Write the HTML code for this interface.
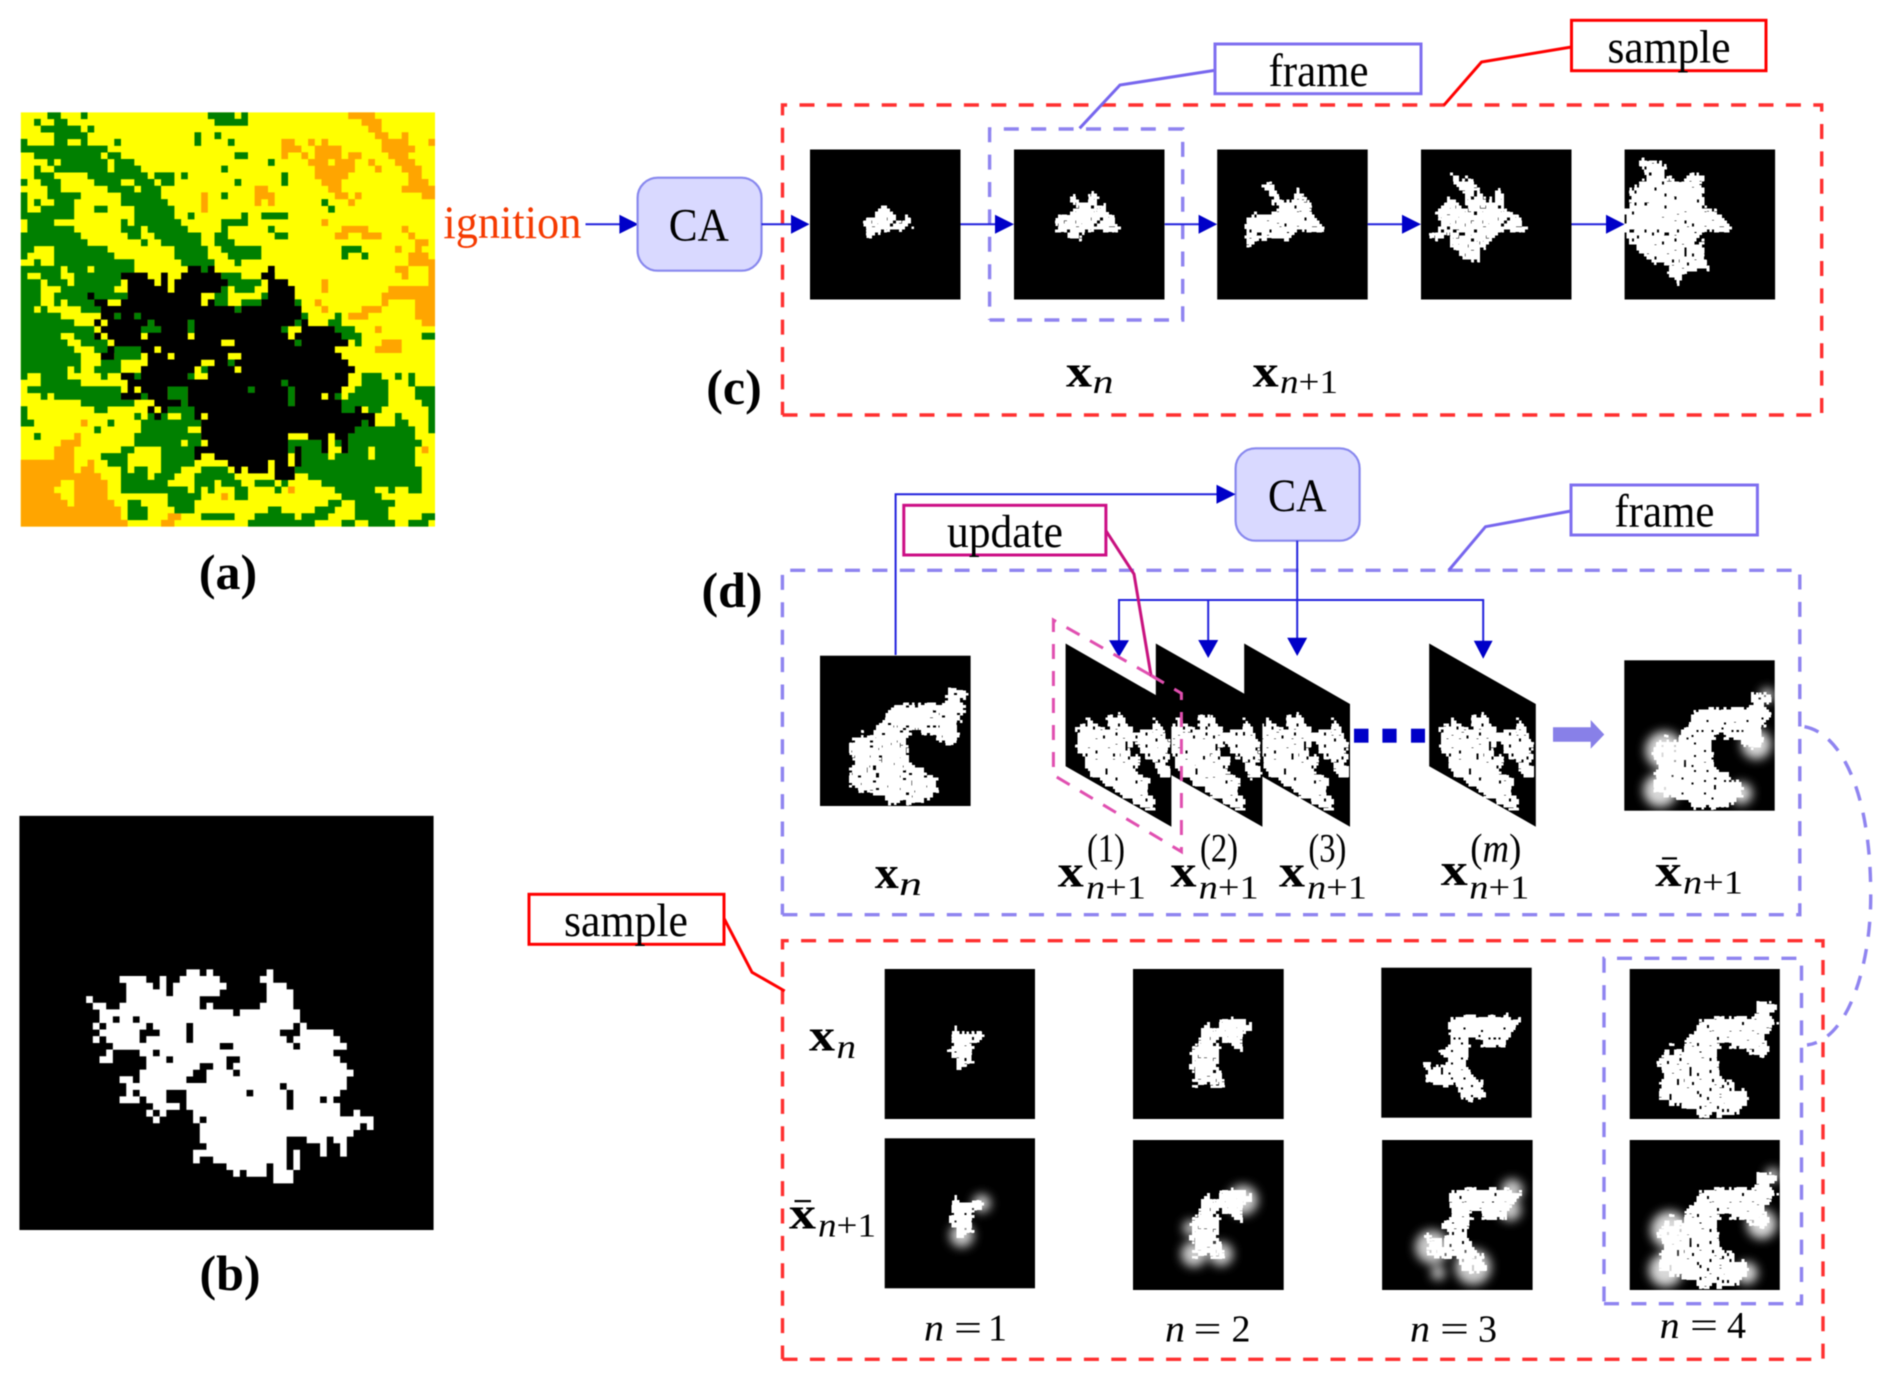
<!DOCTYPE html>
<html><head><meta charset="utf-8"><title>Diagram</title>
<style>
html,body{margin:0;padding:0;background:#fff}
svg{display:block}
#root{filter:blur(.4px)}
text{font-family:"Liberation Serif",serif;fill:#000}
.b{font-weight:bold}
.i{font-style:italic}
.rd{fill:none;stroke:#ff3030;stroke-width:3.4;stroke-dasharray:15 12.4}
.pd{fill:none;stroke:#8f84f0;stroke-width:3.4;stroke-dasharray:15 12.4}
.bl{fill:none;stroke:#2222dd;stroke-width:2}
.hd{fill:#0000c8}
</style></head><body>
<svg id="root" xmlns="http://www.w3.org/2000/svg" width="1892" height="1381" viewBox="0 0 1892 1381">
<defs>
<filter id="r" filterUnits="userSpaceOnUse" x="0" y="0" width="150" height="190" color-interpolation-filters="sRGB">
<feTurbulence type="fractalNoise" baseFrequency=".09" numOctaves="2" seed="2" result="t1"/>
<feDisplacementMap in="SourceGraphic" in2="t1" scale="16" xChannelSelector="R" yChannelSelector="G" result="d1"/>
<feTurbulence type="fractalNoise" baseFrequency=".5" numOctaves="1" seed="4" result="t2"/>
<feDisplacementMap in="d1" in2="t2" scale="7" xChannelSelector="R" yChannelSelector="G" result="d2"/>
<feTurbulence type="fractalNoise" baseFrequency=".3" numOctaves="1" seed="9"/>
<feColorMatrix type="matrix" values="0 0 0 0 0 0 0 0 0 0 0 0 0 0 0 20 0 0 0 -12.6" result="h"/>
<feComposite in="d2" in2="h" operator="out" result="s"/>
<feFlood x="0" y="0" width="1" height="1" flood-color="#fff"/>
<feComposite width="3" height="3"/>
<feTile result="a"/>
<feComposite in="s" in2="a" operator="in"/>
<feComponentTransfer><feFuncA type="discrete" tableValues="0 1"/></feComponentTransfer>
<feMorphology operator="dilate" radius="1"/>
</filter>
<filter id="g" x="-50%" y="-50%" width="200%" height="200%"><feGaussianBlur stdDeviation="5"/></filter>
<path id="m" fill="none" stroke-width="1.03" d="M25 23.5H27M28 23.5H29M37 23.5H38M15 24.5H19M21 24.5H22M24 24.5H30M36 24.5H38M16 25.5H20M21 25.5H22M23 25.5H31M37 25.5H40M16 26.5H22M23 26.5H30M37 26.5H41M10 27.5H11M16 27.5H27M37 27.5H41M11 28.5H13M15 28.5H27M28 28.5H29M36 28.5H41M12 29.5H32M33 29.5H42M12 30.5H14M15 30.5H17M18 30.5H42M11 31.5H12M13 31.5H19M20 31.5H25M26 31.5H41M42 31.5H43M12 32.5H18M21 32.5H25M26 32.5H39M42 32.5H47M11 33.5H12M13 33.5H18M19 33.5H25M26 33.5H40M41 33.5H48M14 34.5H30M32 34.5H41M42 34.5H49M13 35.5H14M18 35.5H20M21 35.5H47M12 36.5H14M19 36.5H22M23 36.5H31M33 36.5H48M19 37.5H27M29 37.5H31M32 37.5H49M18 38.5H26M28 38.5H32M33 38.5H50M15 39.5H17M18 39.5H25M28 39.5H49M16 40.5H39M40 40.5H49M16 41.5H17M18 41.5H22M25 41.5H34M35 41.5H40M41 41.5H48M15 42.5H18M19 42.5H22M25 42.5H40M41 42.5H45M46 42.5H47M20 43.5H24M25 43.5H40M41 43.5H48M19 44.5H20M21 44.5H22M26 44.5H48M50 44.5H51M20 45.5H21M26 45.5H27M28 45.5H53M27 46.5H51M52 46.5H53M27 47.5H50M27 48.5H40M43 48.5H46M47 48.5H49M28 49.5H40M45 49.5H46M48 49.5H49M26 50.5H40M41 50.5H42M45 50.5H46M48 50.5H49M26 51.5H27M29 51.5H40M41 51.5H42M31 52.5H37M38 52.5H40M41 52.5H42M32 53.5H33M34 53.5H37M38 53.5H41M38 54.5H41"/>
<polygon id="n4" fill="#fff" points="28,91 41,78 56,79 65,61 76,48 99,49 125,46 125,33 143,36 143,49 149,53 139,68 137,88 128,88 112,79 91,73 86,81 89,108 102,113 115,125 119,134 106,144 82,147 58,141 41,134 28,118 34,104"/>
<polygon id="n1" fill="#fff" points="70,61 82,64 97,62 99,70 88,72 85,86 87,94 82,99 70,98 72,84 66,81 69,71"/>
<polygon id="n2" fill="#fff" points="59,84 67,70 70,60 75,54 79,56 86,54 97,50 117,50 116,62 110,68 107,81 100,76 88,71 84,81 86,104 92,118 78,116 61,118 60,100"/>
<polygon id="n3" fill="#fff" points="44,99 66,96 59,84 72,76 68,62 68,51 79,47 100,50 131,46 137,56 126,66 122,79 107,79 96,71 90,69 84,96 94,110 103,119 101,129 88,137 75,119 55,119 46,115"/>
<polygon id="pb" fill="#fff" points="11.5,85 27,72 34,90 46,72 54,70 66.5,83 87,90 90,73 104,100 105,120 100,137 83,113 68,97 64,112 80,138 90,165 73,163 49,148 26,130 14,110"/>
<g id="gx"><circle cx="40" cy="90" r="19"/><circle cx="36" cy="130" r="17"/><circle cx="117" cy="133" r="11"/><circle cx="132" cy="84" r="15"/><circle cx="143" cy="35" r="7"/></g>
</defs>

<!-- (a) map -->
<svg x="20.7" y="112.3" width="414.4" height="414.4" viewBox="0 0 62 62">
<rect width="62" height="62" fill="#ffff00"/>
<path fill="none" stroke="#ffa500" stroke-width="1.03" d="M49 .5H53M51 1.5H54M52 2.5H54M53 3.5H55M57 3.5H58M39 4.5H41M43 4.5H44M45 4.5H46M54 4.5H58M61 4.5H62M39 5.5H42M44 5.5H48M54 5.5H59M39 6.5H40M42 6.5H43M44 6.5H48M49 6.5H51M55 6.5H58M43 7.5H46M47 7.5H50M52 7.5H53M56 7.5H59M44 8.5H50M53 8.5H54M57 8.5H60M44 9.5H49M58 9.5H60M45 10.5H48M58 10.5H61M35 11.5H37M46 11.5H48M57 11.5H62M27 12.5H28M35 12.5H38M47 12.5H49M50 12.5H51M60 12.5H62M27 13.5H28M35 13.5H36M37 13.5H38M49 13.5H50M27 14.5H28M45 16.5H46M48 17.5H52M57 17.5H58M47 18.5H49M51 18.5H54M58 18.5H59M59 19.5H61M56 20.5H57M59 20.5H60M58 21.5H61M58 22.5H62M56 23.5H58M61 23.5H62M57 24.5H58M61 24.5H62M45 25.5H46M61 25.5H62M45 26.5H46M55 26.5H62M54 27.5H62M44 28.5H45M54 28.5H55M59 28.5H62M45 29.5H46M51 29.5H54M59 29.5H62M49 30.5H52M59 30.5H62M60 31.5H62M53 32.5H54M54 34.5H57M53 35.5H57M9 46.5H10M8 48.5H9M6 49.5H9M5 50.5H8M60 50.5H61M5 51.5H8M0 52.5H8M10 52.5H11M0 53.5H8M9 53.5H11M0 54.5H8M8 54.5H12M0 55.5H6M8 55.5H13M0 56.5H5M8 56.5H13M40 56.5H41M0 57.5H6M8 57.5H13M30 57.5H31M0 58.5H7M8 58.5H14M0 59.5H15M0 60.5H15M22 60.5H24M0 61.5H16M21 61.5H23"/>
<path fill="none" stroke="#008000" stroke-width="1.03" d="M4 .5H6M9 .5H10M28 .5H32M33 .5H34M2 1.5H3M5 1.5H7M29 1.5H34M3 2.5H9M10 2.5H11M5 3.5H10M26 3.5H27M29 3.5H30M0 4.5H1M5 4.5H7M9 4.5H10M14 4.5H15M26 4.5H27M31 4.5H32M0 5.5H13M2 6.5H12M13 6.5H15M32 6.5H34M4 7.5H5M6 7.5H13M14 7.5H17M37 7.5H38M2 8.5H3M5 8.5H13M14 8.5H18M30 8.5H31M2 9.5H5M10 9.5H19M20 9.5H23M24 9.5H25M39 9.5H40M0 10.5H1M3 10.5H6M11 10.5H15M17 10.5H20M21 10.5H23M32 10.5H33M39 10.5H40M4 11.5H6M13 11.5H17M18 11.5H21M0 12.5H1M4 12.5H9M15 12.5H21M30 12.5H31M0 13.5H1M2 13.5H3M5 13.5H8M15 13.5H22M45 13.5H46M0 14.5H1M3 14.5H8M11 14.5H13M17 14.5H23M46 14.5H47M0 15.5H8M17 15.5H23M25 15.5H26M33 15.5H34M36 15.5H40M1 16.5H5M15 16.5H16M17 16.5H24M30 16.5H34M1 17.5H8M15 17.5H18M19 17.5H25M30 17.5H31M37 17.5H38M0 18.5H9M16 18.5H18M20 18.5H27M29 18.5H31M38 18.5H40M0 19.5H10M18 19.5H19M21 19.5H27M29 19.5H32M0 20.5H2M5 20.5H13M23 20.5H28M30 20.5H36M48 20.5H51M0 21.5H1M5 21.5H14M23 21.5H28M31 21.5H36M48 21.5H49M51 21.5H52M2 22.5H3M5 22.5H17M24 22.5H29M32 22.5H33M0 23.5H6M7 23.5H10M11 23.5H17M27 23.5H29M0 24.5H1M3 24.5H6M8 24.5H15M30 24.5H33M36 24.5H38M0 25.5H3M4 25.5H7M8 25.5H15M31 25.5H36M0 26.5H3M6 26.5H14M30 26.5H31M32 26.5H35M0 27.5H3M5 27.5H16M29 27.5H31M36 27.5H37M0 28.5H3M5 28.5H6M7 28.5H11M29 28.5H31M33 28.5H36M41 28.5H42M0 29.5H2M3 29.5H4M9 29.5H12M32 29.5H33M41 29.5H42M0 30.5H6M14 30.5H15M17 30.5H18M42 30.5H43M47 30.5H48M0 31.5H8M19 31.5H20M25 31.5H26M41 31.5H42M46 31.5H48M0 32.5H11M18 32.5H21M25 32.5H26M39 32.5H40M47 32.5H50M0 33.5H6M8 33.5H11M48 33.5H51M60 33.5H62M0 34.5H7M9 34.5H13M41 34.5H42M50 34.5H51M0 35.5H8M11 35.5H18M0 36.5H9M14 36.5H18M0 37.5H9M12 37.5H15M31 37.5H32M0 38.5H7M8 38.5H9M11 38.5H15M27 38.5H30M31 38.5H32M0 39.5H1M3 39.5H7M12 39.5H13M15 39.5H18M25 39.5H26M32 39.5H33M51 39.5H54M56 39.5H57M58 39.5H59M3 40.5H9M39 40.5H40M51 40.5H55M58 40.5H59M1 41.5H15M22 41.5H25M34 41.5H35M40 41.5H41M50 41.5H55M59 41.5H62M3 42.5H4M5 42.5H15M18 42.5H19M22 42.5H25M40 42.5H41M47 42.5H48M49 42.5H55M59 42.5H62M9 43.5H17M24 43.5H25M40 43.5H41M48 43.5H55M60 43.5H62M0 44.5H1M11 44.5H13M22 44.5H26M48 44.5H51M52 44.5H54M61 44.5H62M0 45.5H1M17 45.5H18M19 45.5H22M24 45.5H26M56 45.5H57M61 45.5H62M0 46.5H2M13 46.5H14M18 46.5H27M51 46.5H52M56 46.5H58M61 46.5H62M11 47.5H12M18 47.5H25M50 47.5H59M61 47.5H62M2 48.5H3M17 48.5H27M49 48.5H59M17 49.5H24M25 49.5H27M40 49.5H45M47 49.5H48M49 49.5H60M15 50.5H17M21 50.5H27M40 50.5H41M42 50.5H45M49 50.5H52M53 50.5H59M12 51.5H16M21 51.5H26M42 51.5H46M47 51.5H52M53 51.5H59M13 52.5H16M21 52.5H26M42 52.5H59M15 53.5H16M17 53.5H19M21 53.5H24M27 53.5H31M32 53.5H33M41 53.5H60M15 54.5H19M20 54.5H23M26 54.5H32M43 54.5H60M15 55.5H22M26 55.5H29M30 55.5H33M35 55.5H38M39 55.5H40M45 55.5H60M15 56.5H25M26 56.5H27M28 56.5H29M32 56.5H34M38 56.5H39M47 56.5H53M55 56.5H56M58 56.5H60M22 57.5H27M32 57.5H34M48 57.5H54M16 58.5H18M22 58.5H26M46 58.5H48M50 58.5H56M16 59.5H19M23 59.5H26M37 59.5H39M44 59.5H47M50 59.5H55M16 60.5H19M27 60.5H32M35 60.5H41M42 60.5H46M50 60.5H55M60 60.5H62M34 61.5H44M48 61.5H50M52 61.5H56M58 61.5H61"/>
<use href="#m" stroke="#000"/>
</svg>
<text class="b" x="228" y="589" font-size="50" text-anchor="middle">(a)</text>

<!-- (b) mask -->
<svg x="19.3" y="815.7" width="414.4" height="414.4" viewBox="0 0 62 62">
<rect width="62" height="62" fill="#000"/>
<use href="#m" stroke="#fff"/>
</svg>
<text class="b" x="230" y="1290" font-size="50" text-anchor="middle">(b)</text>

<!-- (c) -->
<text x="443.4" y="238" font-size="47" textLength="138" lengthAdjust="spacingAndGlyphs" style="fill:#f53a00">ignition</text>
<path class="bl" d="M585.5 224.3H625"/><polygon class="hd" points="619.4,214.8 638.5,224.3 619.4,233.8"/>
<rect x="637.6" y="177.7" width="123.9" height="93" rx="20" fill="#d9d9ff" stroke="#8888ee" stroke-width="2.2"/>
<text x="668.8" y="240.7" font-size="47" textLength="60" lengthAdjust="spacingAndGlyphs">CA</text>

<path class="rd" d="M782.5 415H1821.7V105H782.5V415"/>
<path class="pd" d="M989.6 320H1182.7V129H989.6V320"/>

<g transform="translate(810,149.5)"><rect width="150.5" height="150" fill="#000"/><g filter="url(#r)"><polygon fill="#fff" points="56,76 62,66 70,62 79,54 82,65 92,72 98,68 104,76 88,80 82,82 72,82 62,89 57,88"/></g></g>
<g transform="translate(1014,149.5)"><rect width="150.5" height="150" fill="#000"/><g filter="url(#r)"><polygon fill="#fff" points="40,76 46,66 58,56 62,48 72,52 78,40 84,48 90,60 100,68 106,76 100,82 88,82 70,82 64,94 60,90 52,84 44,80"/></g></g>
<g transform="translate(1217.2,149.5)"><rect width="150.5" height="150" fill="#000"/><g filter="url(#r)"><polygon fill="#fff" points="29,76 34,68 44,66 54,60 58,54 50,42 46,34 54,32 60,42 66,52 74,52 82,40 85,44 90,58 98,68 106,76 102,82 92,82 80,82 70,90 62,92 58,88 46,90 32,96 28,86"/></g></g>
<g transform="translate(1421,149.5)"><rect width="150.5" height="150" fill="#000"/><g filter="url(#r)"><polygon fill="#fff" points="10,88 18,80 20,56 26,48 34,52 42,60 48,62 44,46 30,28 30,24 42,26 54,30 60,44 68,50 76,40 82,44 88,60 98,70 106,76 100,82 88,82 70,90 60,100 56,114 48,112 36,102 28,88 10,90"/></g></g>
<g transform="translate(1624.6,149.5)"><rect width="150.5" height="150" fill="#000"/><g filter="url(#r)"><polygon fill="#fff" points="1,60 6,44 16,38 20,28 16,14 32,10 38,22 48,30 56,34 68,24 74,26 78,44 88,58 98,70 106,76 100,82 82,82 70,90 68,94 78,94 80,108 82,116 70,120 58,130 54,134 46,122 36,116 22,108 10,94 2,86"/></g></g>

<path class="bl" d="M761.5 224.3H795M960.5 224.3H1000M1164.7 224.3H1203M1367.6 224.3H1406M1571.5 224.3H1610"/>
<polygon class="hd" points="791,214.8 809.5,224.3 791,233.8"/>
<polygon class="hd" points="995,214.8 1014,224.3 995,233.8"/>
<polygon class="hd" points="1198.6,214.8 1217.2,224.3 1198.6,233.8"/>
<polygon class="hd" points="1402,214.8 1421,224.3 1402,233.8"/>
<polygon class="hd" points="1606,214.8 1624.6,224.3 1606,233.8"/>

<path d="M1079.6 128.3L1120 85L1217 70" fill="none" stroke="#7766ee" stroke-width="3"/>
<rect x="1215" y="44" width="206" height="49.7" fill="#fff" stroke="#7f6ff0" stroke-width="3"/>
<text x="1268.5" y="86" font-size="47" textLength="100" lengthAdjust="spacingAndGlyphs">frame</text>
<path d="M1443.8 105.3L1481.5 62L1571.5 47" fill="none" stroke="#f00" stroke-width="3"/>
<rect x="1571.5" y="20.3" width="194.5" height="50.4" fill="#fff" stroke="#f00" stroke-width="3"/>
<text x="1607.5" y="62.5" font-size="47" textLength="123" lengthAdjust="spacingAndGlyphs">sample</text>

<text class="b" x="734" y="404" font-size="50" text-anchor="middle">(c)</text>
<text class="b" x="1066" y="386.7" font-size="46" textLength="26" lengthAdjust="spacingAndGlyphs">x</text>
<text class="i" x="1092.5" y="393" font-size="34" textLength="21" lengthAdjust="spacingAndGlyphs">n</text>
<text class="b" x="1252.7" y="386.7" font-size="46" textLength="26" lengthAdjust="spacingAndGlyphs">x</text>
<text x="1280" y="393" font-size="34" textLength="58" lengthAdjust="spacingAndGlyphs"><tspan class="i">n</tspan>+1</text>

<!-- (d) -->
<path class="pd" d="M782.4 914.7H1799.8V570.3H782.4V914.7"/>
<text class="b" x="732" y="607" font-size="50" text-anchor="middle">(d)</text>

<rect x="1235.6" y="448.3" width="124" height="92.4" rx="20" fill="#d9d9ff" stroke="#8888ee" stroke-width="2.2"/>
<text x="1268" y="511" font-size="47" textLength="58.5" lengthAdjust="spacingAndGlyphs">CA</text>
<path class="bl" d="M895.6 655V494.3H1220"/><polygon class="hd" points="1216.5,484.8 1235.6,494.3 1216.5,503.8"/>
<path class="bl" d="M1297.2 540.7V645M1119 645V600H1483.2V645M1208.2 600V645"/>

<path d="M1105.9 530.7L1134 574L1151 675.3L1165 684" fill="none" stroke="#c8127f" stroke-width="3"/>
<rect x="903.8" y="505.3" width="202.1" height="49.7" fill="#fff" stroke="#cc0e85" stroke-width="3"/>
<text x="947" y="547" font-size="47" textLength="116" lengthAdjust="spacingAndGlyphs">update</text>

<path d="M1449 570L1485.5 526.7L1571 511" fill="none" stroke="#7766ee" stroke-width="3"/>
<rect x="1571" y="485" width="186.4" height="50" fill="#fff" stroke="#7f6ff0" stroke-width="3"/>
<text x="1614.4" y="526.7" font-size="47" textLength="100" lengthAdjust="spacingAndGlyphs">frame</text>

<g transform="translate(820,655.7)"><rect width="150.6" height="150.3" fill="#000"/><g filter="url(#r)"><use href="#n4"/></g></g>

<g transform="translate(1429.2,643.5)"><polygon points="0,0 106.6,60.5 106.6,183.2 0,122.7" fill="#000"/><g filter="url(#r)"><use href="#pb"/></g></g>
<g transform="translate(1244.2,643.5)"><polygon points="0,0 105.8,60.5 105.8,183.2 0,122.7" fill="#000"/><g filter="url(#r)"><use href="#pb"/></g></g>
<g transform="translate(1155.8,643.5)"><polygon points="0,0 106.6,60.5 106.6,183.2 0,122.7" fill="#000"/><g filter="url(#r)"><use href="#pb"/></g></g>
<g transform="translate(1065.6,643.5)"><polygon points="0,0 105.8,60.5 105.8,183.2 0,122.7" fill="#000"/><g filter="url(#r)"><use href="#pb"/></g></g>

<polygon class="hd" points="1109,640.3 1129,640.3 1119,657"/>
<polygon class="hd" points="1198.2,640 1218.2,640 1208.2,658"/>
<polygon class="hd" points="1287.2,637.7 1307.2,637.7 1297.2,656"/>
<polygon class="hd" points="1473.8,640.7 1492.6,640.7 1483.2,658.7"/>

<path d="M1151 675.3L1181.4 693.3V851.7L1053.4 775V620L1151 675.3" fill="none" stroke="#e04fb0" stroke-width="3" stroke-dasharray="15 12"/>

<rect x="1354" y="728.7" width="14.5" height="14" class="hd"/>
<rect x="1382.4" y="728.7" width="14.2" height="14" class="hd"/>
<rect x="1411" y="728.7" width="14" height="14" class="hd"/>
<polygon points="1553,727.3 1590.7,727.3 1590.7,720 1604.3,734.5 1590.7,748.7 1590.7,741.7 1553,741.7" fill="#8880e8"/>

<g transform="translate(1624.3,660.3)"><rect width="150.4" height="150.4" fill="#000"/><g filter="url(#g)" fill="#fff" opacity=".85"><use href="#gx"/></g><g filter="url(#r)"><use href="#n4"/></g></g>

<path class="pd" d="M1804.5 726.7C1840 733 1871 790 1870.7 896C1871 960 1850 1040 1807 1045"/>

<text class="b" x="874.8" y="888" font-size="46" textLength="24" lengthAdjust="spacingAndGlyphs">x</text>
<text class="i" x="899" y="895" font-size="34" textLength="23" lengthAdjust="spacingAndGlyphs">n</text>
<text class="b" x="1057.8" y="886.7" font-size="46" textLength="26" lengthAdjust="spacingAndGlyphs">x</text>
<text x="1086" y="898.3" font-size="34" textLength="60" lengthAdjust="spacingAndGlyphs"><tspan class="i">n</tspan>+1</text>
<text x="1087" y="861.7" font-size="40" textLength="38" lengthAdjust="spacingAndGlyphs">(1)</text>
<text class="b" x="1170.5" y="886.7" font-size="46" textLength="26" lengthAdjust="spacingAndGlyphs">x</text>
<text x="1198.7" y="898.3" font-size="34" textLength="60" lengthAdjust="spacingAndGlyphs"><tspan class="i">n</tspan>+1</text>
<text x="1200" y="861.7" font-size="40" textLength="38" lengthAdjust="spacingAndGlyphs">(2)</text>
<text class="b" x="1279" y="886.7" font-size="46" textLength="26" lengthAdjust="spacingAndGlyphs">x</text>
<text x="1307" y="898.3" font-size="34" textLength="60" lengthAdjust="spacingAndGlyphs"><tspan class="i">n</tspan>+1</text>
<text x="1308.4" y="861.7" font-size="40" textLength="38" lengthAdjust="spacingAndGlyphs">(3)</text>
<text class="b" x="1440.8" y="885" font-size="46" textLength="27" lengthAdjust="spacingAndGlyphs">x</text>
<text x="1469.3" y="898.3" font-size="34" textLength="60" lengthAdjust="spacingAndGlyphs"><tspan class="i">n</tspan>+1</text>
<text x="1470.3" y="861.7" font-size="40" textLength="51" lengthAdjust="spacingAndGlyphs">(<tspan class="i">m</tspan>)</text>
<text class="b" x="1655.2" y="886" font-size="46" textLength="26.5" lengthAdjust="spacingAndGlyphs">x</text>
<rect x="1662" y="857.3" width="15" height="2.2" fill="#000"/>
<text x="1683" y="893.3" font-size="34" textLength="60" lengthAdjust="spacingAndGlyphs"><tspan class="i">n</tspan>+1</text>

<!-- bottom panel -->
<path class="rd" d="M782.5 1359.3H1823V940.7H782.5V1359.3"/>
<path d="M724 918.3L752 972.3L784.7 991" fill="none" stroke="#f00" stroke-width="3"/>
<rect x="529" y="894.3" width="195" height="50" fill="#fff" stroke="#f00" stroke-width="3"/>
<text x="564" y="936" font-size="47" textLength="124" lengthAdjust="spacingAndGlyphs">sample</text>

<g transform="translate(884.7,969)"><rect width="150.3" height="150" fill="#000"/><g filter="url(#r)"><use href="#n1"/></g></g>
<g transform="translate(884.7,1138.3)"><rect width="150.3" height="150" fill="#000"/><g filter="url(#g)" fill="#fff" opacity=".8"><circle cx="97" cy="65" r="9"/><circle cx="77" cy="97" r="12"/></g><g filter="url(#r)"><use href="#n1"/></g></g>
<g transform="translate(1133,969)"><rect width="150.7" height="150" fill="#000"/><g filter="url(#r)"><use href="#n2"/></g></g>
<g transform="translate(1133,1140)"><rect width="150.7" height="150" fill="#000"/><g filter="url(#g)" fill="#fff" opacity=".8"><circle cx="110" cy="60" r="15"/><circle cx="88" cy="114" r="12"/><circle cx="61" cy="114" r="13"/><circle cx="58" cy="88" r="8"/></g><g filter="url(#r)"><use href="#n2"/></g></g>
<g transform="translate(1381.3,967.7)"><rect width="150.4" height="150" fill="#000"/><g filter="url(#r)"><use href="#n3"/></g></g>
<g transform="translate(1382.1,1140)"><rect width="150.5" height="150" fill="#000"/><g filter="url(#g)" fill="#fff" opacity=".8"><circle cx="50" cy="107" r="17"/><circle cx="91" cy="127" r="18"/><circle cx="130" cy="50" r="11"/><circle cx="128" cy="70" r="11"/><circle cx="56" cy="133" r="7"/></g><g filter="url(#r)"><use href="#n3"/></g></g>
<g transform="translate(1629.7,969)"><rect width="150.1" height="150" fill="#000"/><g filter="url(#r)"><use href="#n4"/></g></g>
<g transform="translate(1629.7,1140)"><rect width="150.1" height="150" fill="#000"/><g filter="url(#g)" fill="#fff" opacity=".85"><use href="#gx"/></g><g filter="url(#r)"><use href="#n4"/></g></g>

<path class="pd" d="M1604 1303.7H1801.5V958.3H1604V1303.7"/>

<text class="b" x="809" y="1050.7" font-size="46" textLength="26" lengthAdjust="spacingAndGlyphs">x</text>
<text class="i" x="836.5" y="1058" font-size="34" textLength="19.5" lengthAdjust="spacingAndGlyphs">n</text>
<text class="b" x="789" y="1228.3" font-size="46" textLength="27" lengthAdjust="spacingAndGlyphs">x</text>
<rect x="794.5" y="1200" width="16.5" height="2.2" fill="#000"/>
<text x="818" y="1236.7" font-size="34" textLength="58" lengthAdjust="spacingAndGlyphs"><tspan class="i">n</tspan>+1</text>

<text class="i" x="924" y="1340.7" font-size="38" textLength="20" lengthAdjust="spacingAndGlyphs">n</text><text x="954" y="1340.7" font-size="38" textLength="28" lengthAdjust="spacingAndGlyphs">=</text><text x="988" y="1340.7" font-size="38" textLength="19" lengthAdjust="spacingAndGlyphs">1</text>
<text class="i" x="1165" y="1341.7" font-size="38" textLength="20" lengthAdjust="spacingAndGlyphs">n</text><text x="1193.5" y="1341.7" font-size="38" textLength="28" lengthAdjust="spacingAndGlyphs">=</text><text x="1231.5" y="1341.7" font-size="38" textLength="19" lengthAdjust="spacingAndGlyphs">2</text>
<text class="i" x="1410" y="1341.7" font-size="38" textLength="20" lengthAdjust="spacingAndGlyphs">n</text><text x="1440" y="1341.7" font-size="38" textLength="29" lengthAdjust="spacingAndGlyphs">=</text><text x="1478" y="1341.7" font-size="38" textLength="19" lengthAdjust="spacingAndGlyphs">3</text>
<text class="i" x="1659.7" y="1338" font-size="38" textLength="20" lengthAdjust="spacingAndGlyphs">n</text><text x="1690" y="1338" font-size="38" textLength="28" lengthAdjust="spacingAndGlyphs">=</text><text x="1727" y="1338" font-size="38" textLength="19" lengthAdjust="spacingAndGlyphs">4</text>
</svg>
</body></html>
